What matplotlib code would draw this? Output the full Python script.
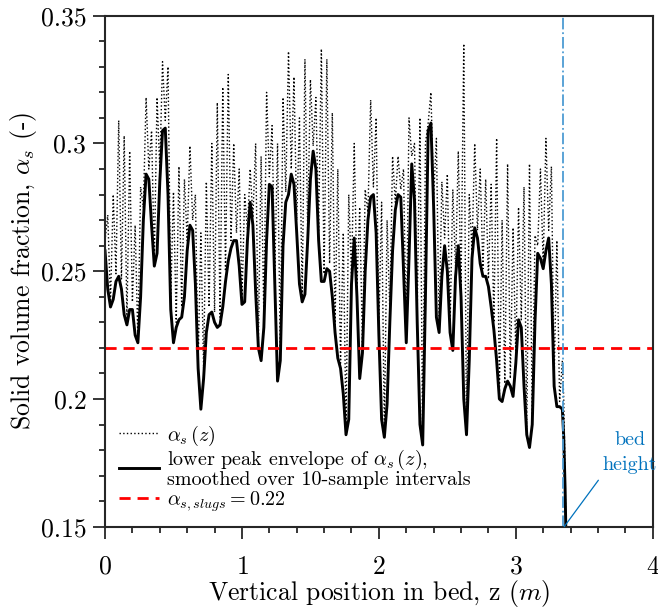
import numpy as np
import matplotlib
matplotlib.use("Agg")
import matplotlib.pyplot as plt

plt.rcParams['font.family'] = 'serif'
plt.rcParams['font.serif'] = ['cmr10', 'DejaVu Serif']
plt.rcParams['mathtext.fontset'] = 'cm'
plt.rcParams['axes.formatter.use_mathtext'] = True

# sample grid (m), 0.02 spacing up to the bed surface
dz = 0.02
z_grid = np.arange(168) * dz

# raw solid volume fraction alpha_s(z)
alpha_raw = [
    0.262, 0.272, 0.238, 0.280, 0.249, 0.309, 0.247, 0.303, 0.231, 0.297,
    0.238, 0.268, 0.223, 0.283, 0.275, 0.318, 0.290, 0.305, 0.254, 0.318,
    0.290, 0.332, 0.309, 0.330, 0.240, 0.281, 0.230, 0.291, 0.236, 0.286,
    0.262, 0.299, 0.270, 0.280, 0.214, 0.265, 0.212, 0.285, 0.236, 0.300,
    0.234, 0.316, 0.232, 0.322, 0.250, 0.327, 0.262, 0.300, 0.265, 0.290,
    0.239, 0.280, 0.266, 0.290, 0.271, 0.300, 0.223, 0.295, 0.232, 0.320,
    0.287, 0.307, 0.250, 0.300, 0.218, 0.318, 0.281, 0.336, 0.290, 0.326,
    0.270, 0.310, 0.240, 0.333, 0.266, 0.325, 0.299, 0.318, 0.266, 0.337,
    0.249, 0.333, 0.253, 0.312, 0.229, 0.290, 0.214, 0.265, 0.188, 0.280,
    0.248, 0.300, 0.244, 0.275, 0.221, 0.282, 0.273, 0.317, 0.283, 0.310,
    0.229, 0.277, 0.187, 0.270, 0.234, 0.295, 0.277, 0.295, 0.282, 0.290,
    0.224, 0.310, 0.295, 0.300, 0.234, 0.310, 0.184, 0.300, 0.308, 0.320,
    0.279, 0.302, 0.228, 0.285, 0.263, 0.288, 0.229, 0.282, 0.251, 0.297,
    0.244, 0.339, 0.188, 0.280, 0.258, 0.300, 0.266, 0.290, 0.251, 0.286,
    0.247, 0.284, 0.230, 0.302, 0.202, 0.270, 0.206, 0.292, 0.208, 0.267,
    0.217, 0.275, 0.231, 0.283, 0.188, 0.292, 0.193, 0.264, 0.260, 0.290,
    0.253, 0.302, 0.266, 0.291, 0.208, 0.262, 0.199, 0.215,
]
z_raw_tail = [3.35, 3.36, 3.365]
alpha_raw_tail = [0.200, 0.170, 0.150]

# lower peak envelope, smoothed over 10 samples
alpha_env = [
    0.258, 0.243, 0.236, 0.239, 0.246, 0.248, 0.243, 0.233, 0.229, 0.235,
    0.235, 0.225, 0.222, 0.240, 0.270, 0.288, 0.286, 0.268, 0.252, 0.257,
    0.285, 0.305, 0.306, 0.280, 0.235, 0.222, 0.228, 0.231, 0.232, 0.240,
    0.258, 0.268, 0.266, 0.245, 0.212, 0.196, 0.208, 0.226, 0.233, 0.234,
    0.230, 0.228, 0.229, 0.236, 0.246, 0.254, 0.259, 0.262, 0.262, 0.252,
    0.237, 0.238, 0.262, 0.277, 0.268, 0.242, 0.220, 0.215, 0.228, 0.262,
    0.284, 0.283, 0.245, 0.207, 0.215, 0.260, 0.277, 0.280, 0.288, 0.284,
    0.265, 0.245, 0.238, 0.241, 0.262, 0.286, 0.297, 0.290, 0.262, 0.246,
    0.246, 0.251, 0.250, 0.240, 0.226, 0.216, 0.212, 0.202, 0.186, 0.192,
    0.245, 0.263, 0.240, 0.208, 0.218, 0.250, 0.270, 0.279, 0.280, 0.265,
    0.225, 0.192, 0.185, 0.198, 0.230, 0.258, 0.274, 0.280, 0.279, 0.250,
    0.222, 0.255, 0.292, 0.278, 0.230, 0.190, 0.182, 0.240, 0.305, 0.308,
    0.275, 0.232, 0.226, 0.248, 0.260, 0.250, 0.226, 0.219, 0.248, 0.260,
    0.240, 0.200, 0.186, 0.215, 0.255, 0.267, 0.263, 0.253, 0.248, 0.248,
    0.244, 0.236, 0.227, 0.215, 0.200, 0.199, 0.204, 0.207, 0.205, 0.201,
    0.214, 0.231, 0.228, 0.205, 0.186, 0.181, 0.190, 0.230, 0.257, 0.255,
    0.251, 0.258, 0.263, 0.245, 0.205, 0.197, 0.197, 0.196,
]
z_env_tail = [3.35, 3.36, 3.365]
alpha_env_tail = [0.185, 0.165, 0.150]

alpha_slugs = 0.22
bed_height = 3.343

z_raw = np.concatenate([z_grid, z_raw_tail])
a_raw = np.concatenate([alpha_raw, alpha_raw_tail])
z_env = np.concatenate([z_grid, z_env_tail])
a_env = np.concatenate([alpha_env, alpha_env_tail])

fig = plt.figure(figsize=(6.58, 6.09), dpi=100)
ax = fig.add_axes([0.1596, 0.1351, 0.8324, 0.8391])

l1, = ax.plot(z_raw, a_raw, color='k', ls=':', lw=1.0)
l2, = ax.plot(z_env, a_env, color='k', lw=2.1, solid_joinstyle='round')
l3 = ax.axhline(alpha_slugs, color='#FF0000', ls=(0, (4, 2.5)), lw=2.0)
ax.axvline(bed_height, color='#4D9CD3', ls='-.', lw=1.3)

ax.annotate('bed\nheight', xy=(bed_height + 0.01, 0.150), xytext=(3.835, 0.179),
            color='#0072BD', fontsize=14.5, ha='center', va='center',
            linespacing=1.5,
            arrowprops=dict(arrowstyle='-', color='#0072BD', lw=0.9,
                            relpos=(0.0, 0.0), shrinkA=3, shrinkB=0))

ax.set_xlim(0, 4)
ax.set_ylim(0.15, 0.35)
ax.set_xticks([0, 1, 2, 3, 4])
ax.set_xticks(np.arange(0, 4.01, 0.2), minor=True)
ax.set_yticks([0.15, 0.2, 0.25, 0.3, 0.35])
ax.set_yticklabels(['0.15', '0.2', '0.25', '0.3', '0.35'])
ax.set_yticks(np.arange(0.15, 0.351, 0.01), minor=True)
ax.tick_params(which='both', direction='out', top=False, right=False,
               labelsize=18.5, width=1.3, color='#262626')
ax.tick_params(which='major', length=8.5)
ax.tick_params(which='minor', length=4.5)
ax.tick_params(axis='x', which='major', pad=12)
ax.tick_params(axis='y', which='major', pad=5)
for s in ax.spines.values():
    s.set_linewidth(1.5)
    s.set_color('#262626')

ax.set_xlabel(r'Vertical position in bed, z $(m)$', fontsize=18.5, labelpad=-1)
ax.set_ylabel(r'Solid volume fraction, $\alpha_s$ (-)', fontsize=18.5, labelpad=1)

leg = ax.legend([l1, l2, l3],
                [r'$\alpha_s\,(z)$',
                 'lower peak envelope of $\\alpha_s\\,(z)$,\nsmoothed over 10-sample intervals',
                 r'$\alpha_{s,slugs} = 0.22$'],
                loc='lower left', bbox_to_anchor=(0.0, -0.002), frameon=False,
                fontsize=14.5, handlelength=2.0, handletextpad=0.4,
                labelspacing=0.0, borderaxespad=0.3)
for t in leg.get_texts():
    t.set_linespacing(0.95)

fig.savefig('out.png', dpi=100)
